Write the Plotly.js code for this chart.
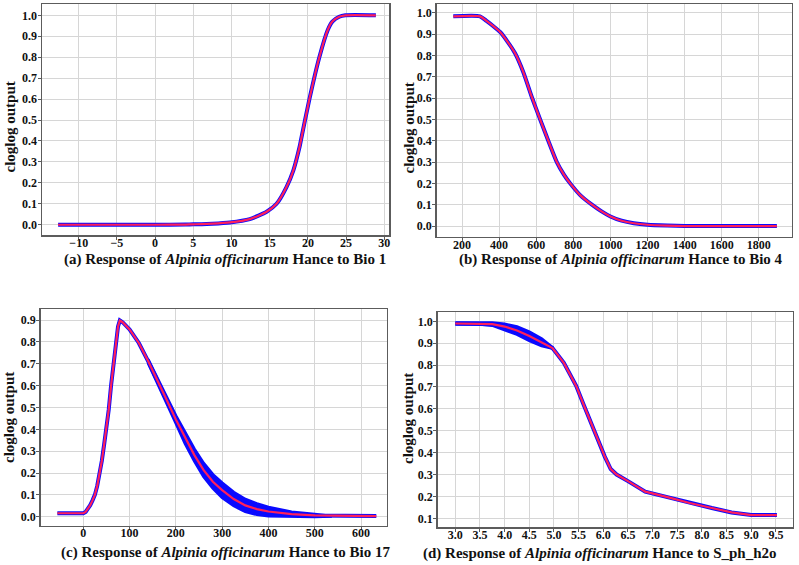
<!DOCTYPE html>
<html>
<head>
<meta charset="utf-8">
<script src="https://cdn.plot.ly/plotly-3.0.1.min.js"></script>
<style>
  html, body { margin: 0; padding: 0; background: #fff; }
  #chart { width: 799px; height: 565px; }
</style>
</head>
<body>
<div id="chart"></div>
<script>
// (a) Bio 1 response
const bio1X = [-12.7, -5, 0, 4, 5, 7.5, 9.8, 12.4, 14.6, 15.9, 17.2, 18.1, 18.9, 19.1, 20.2, 21.5, 22.6, 23.2, 24.1, 24.9, 28.9];
const bio1Y = [0, 0, 0, 0.001, 0.002, 0.005, 0.011, 0.027, 0.062, 0.10, 0.18, 0.26, 0.37, 0.405, 0.60, 0.80, 0.93, 0.97, 0.993, 1.0, 1.0];

// (b) Bio 4 response
const bio4X = [153, 297, 330, 369, 405, 445, 486, 531, 576, 621, 665, 711, 750, 783, 837, 900, 950, 1000, 1060, 1126, 1200, 1306, 1400, 1897];
const bio4Y = [0.983, 0.983, 0.963, 0.937, 0.91, 0.865, 0.81, 0.72, 0.605, 0.50, 0.40, 0.30, 0.24, 0.20, 0.145, 0.10, 0.07, 0.045, 0.025, 0.013, 0.006, 0.002, 0.0, 0.0];

// (c) Bio 17 response: mean curve and replicate envelope
const bio17X = [-56, 0, 5, 10, 15, 20, 25, 30, 35, 40, 45, 50, 55, 60, 65, 70, 75, 79, 85, 100, 120, 140, 160, 180, 200, 220, 240, 260, 280, 300, 325, 350, 375, 400, 450, 500, 550, 633];
const bio17Y = [0.016, 0.016, 0.022, 0.035, 0.053, 0.075, 0.10, 0.14, 0.19, 0.255, 0.33, 0.40, 0.49, 0.60, 0.70, 0.80, 0.87, 0.898, 0.89, 0.857, 0.795, 0.712, 0.627, 0.535, 0.445, 0.36, 0.282, 0.213, 0.16, 0.122, 0.081, 0.052, 0.035, 0.024, 0.012, 0.006, 0.004, 0.003];
const bio17BandX = [140, 160, 180, 200, 220, 240, 260, 280, 300, 325, 350, 375, 400, 450, 500, 537];
const bio17Upper = [0.72, 0.637, 0.548, 0.462, 0.385, 0.31, 0.245, 0.193, 0.155, 0.112, 0.08, 0.06, 0.044, 0.022, 0.011, 0.005];
const bio17Lower = [0.704, 0.617, 0.522, 0.428, 0.335, 0.255, 0.183, 0.13, 0.088, 0.05, 0.024, 0.01, 0.003, 0.0, 0.0, 0.002];

// (d) S_ph_h2o response: mean curve and replicate envelope
const phX = [3.0, 3.5, 3.75, 4.0, 4.25, 4.5, 4.75, 4.97, 5.2, 5.45, 5.6, 5.75, 5.9, 6.03, 6.15, 6.27, 6.5, 6.85, 7.3, 7.75, 8.2, 8.6, 9.0, 9.52];
const phY = [0.99, 0.99, 0.987, 0.976, 0.958, 0.933, 0.905, 0.878, 0.81, 0.705, 0.62, 0.535, 0.45, 0.382, 0.325, 0.30, 0.27, 0.222, 0.197, 0.17, 0.147, 0.127, 0.115, 0.115];
const phBandX = [3.0, 3.5, 3.75, 4.0, 4.25, 4.5, 4.75, 4.97];
const phUpper = [0.993, 0.993, 0.993, 0.988, 0.975, 0.952, 0.92, 0.88];
const phLower = [0.987, 0.987, 0.981, 0.962, 0.94, 0.912, 0.888, 0.876];

const panelTitles = [
  '(a) Response of <i>Alpinia officinarum</i> Hance to Bio 1',
  '(b) Response of <i>Alpinia officinarum</i> Hance to Bio 4',
  '(c) Response of <i>Alpinia officinarum</i> Hance to Bio 17',
  '(d) Response of <i>Alpinia officinarum</i> Hance to S_ph_h2o'
];
const yTitle = 'cloglog output';

const W = 799, H = 565;
const SERIF = '"Liberation Serif", "Times New Roman", Times, serif';
const BLUE = '#0a0aff';
const RED = '#ff1f5a';

// plot boxes in pixels: [left, top, right, bottom]
const boxes = [
  [42, 4, 389.3, 235],
  [436.7, 4, 791.7, 236.7],
  [40.7, 309.3, 386.7, 525.5],
  [437.7, 312, 792.7, 527.3]
];
const xRanges = [[-14.81, 30.66], [63.6, 1977], [-92, 655.5], [2.643, 9.84]];
const yRanges = [[-0.049, 1.054], [-0.05, 1.041], [-0.040, 0.949], [0.059, 1.0425]];
const xTicks = [
  {tick0: -10, dtick: 5, fmt: ''},
  {tick0: 200, dtick: 200, fmt: ''},
  {tick0: 0, dtick: 100, fmt: ''},
  {tick0: 3, dtick: 0.5, fmt: '.1f'}
];
const curveShapes = ['spline', 'spline', 'linear', 'linear'];

// caption and vertical axis-title anchors, in pixels
const titleLeft = [61.7, 456.7, 59.3, 420.7];
const titleY = [259, 259, 552, 553];
const yTitlePos = [[9, 127.5], [408, 127.5], [9, 418], [408, 418]];

function meanTraces(i, xs, ys) {
  const ax = i === 0 ? '' : String(i + 1);
  const shape = curveShapes[i];
  return [
    {x: xs, y: ys, xaxis: 'x' + ax, yaxis: 'y' + ax, mode: 'lines', hoverinfo: 'skip',
     line: {color: BLUE, width: 4, shape: shape, smoothing: 0.6}},
    {x: xs, y: ys, xaxis: 'x' + ax, yaxis: 'y' + ax, mode: 'lines', hoverinfo: 'skip',
     line: {color: RED, width: 2.2, shape: shape, smoothing: 0.6}}
  ];
}
function bandTrace(i, xs, up, lo) {
  const ax = String(i + 1);
  return {
    x: xs.concat(xs.slice().reverse()),
    y: up.concat(lo.slice().reverse()),
    xaxis: 'x' + ax, yaxis: 'y' + ax, mode: 'lines', fill: 'toself',
    fillcolor: BLUE, line: {color: BLUE, width: 3}, hoverinfo: 'skip'
  };
}

const m0 = meanTraces(0, bio1X, bio1Y);
const m1 = meanTraces(1, bio4X, bio4Y);
const m2 = meanTraces(2, bio17X, bio17Y);
const m3 = meanTraces(3, phX, phY);
const data = [
  m0[0], m0[1],
  m1[0], m1[1],
  bandTrace(2, bio17BandX, bio17Upper, bio17Lower), m2[0], m2[1],
  bandTrace(3, phBandX, phUpper, phLower), m3[0], m3[1]
];
data.forEach(t => { t.showlegend = false; });

const layout = {
  width: W, height: H,
  margin: {l: 0, r: 0, t: 0, b: 0},
  paper_bgcolor: '#fff', plot_bgcolor: '#fff',
  showlegend: false,
  font: {family: SERIF, color: '#111'},
  annotations: []
};

const tickFont = {family: SERIF, size: 12, color: '#111', weight: 'bold'};
const labelFont = {family: SERIF, size: 15, color: '#111', weight: 'bold'};
const common = {
  showline: true, mirror: true, linecolor: '#5c5c5c', linewidth: 1.5,
  showgrid: true, gridcolor: '#d6d6d6', gridwidth: 1,
  zeroline: false, ticks: 'outside', ticklen: 3, tickcolor: '#5c5c5c',
  tickfont: tickFont, fixedrange: true
};

boxes.forEach((b, i) => {
  const s = i === 0 ? '' : String(i + 1);
  layout['xaxis' + s] = Object.assign({}, common, {
    domain: [b[0] / W, b[2] / W], anchor: 'y' + s,
    range: xRanges[i], tick0: xTicks[i].tick0, dtick: xTicks[i].dtick,
    tickformat: xTicks[i].fmt, ticklabelstandoff: -7
  });
  layout['yaxis' + s] = Object.assign({}, common, {
    domain: [1 - b[3] / H, 1 - b[1] / H], anchor: 'x' + s,
    range: yRanges[i], tick0: 0, dtick: 0.1, tickformat: '.1f',
    ticklabelstandoff: -2
  });
  // panel caption under the plot
  layout.annotations.push({
    xref: 'paper', yref: 'paper', x: titleLeft[i] / W, y: 1 - titleY[i] / H,
    xanchor: 'left', yanchor: 'middle', showarrow: false,
    text: panelTitles[i], font: labelFont
  });
  // vertical y-axis title
  layout.annotations.push({
    xref: 'paper', yref: 'paper', x: yTitlePos[i][0] / W, y: 1 - yTitlePos[i][1] / H,
    xanchor: 'center', yanchor: 'middle', showarrow: false, textangle: -90,
    text: yTitle, font: labelFont
  });
});

Plotly.newPlot('chart', data, layout, {staticPlot: true, displayModeBar: false});
</script>
</body>
</html>
